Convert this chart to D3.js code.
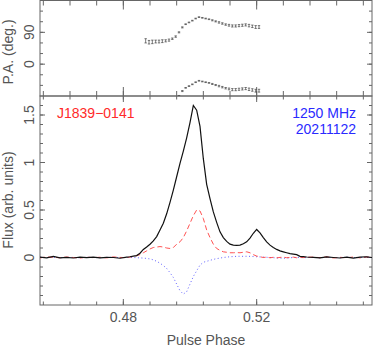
<!DOCTYPE html>
<html>
<head>
<meta charset="utf-8">
<title>J1839-0141 profile</title>
<script src="https://d3js.org/d3.v7.min.js"></script>
<style>
  body { margin: 0; background: #fff; }
  svg text { font-family: "Liberation Sans", Arial, sans-serif; }
</style>
</head>
<body>
<svg id="chart" width="374" height="349"></svg>
<script>
// pulse phase of each bin
var phase = [0.455,0.457,0.459,0.461,0.463,0.465,0.467,0.469,0.471,0.473,0.475,0.477,0.479,0.481,
  0.482,0.483,0.484,0.485,0.486,0.487,0.488,0.489,0.490,0.491,0.492,0.493,0.494,0.495,0.496,0.497,
  0.498,0.499,0.500,0.501,0.502,0.503,0.504,0.505,0.506,0.507,0.508,0.509,0.510,0.511,0.512,0.513,
  0.514,0.515,0.516,0.517,0.518,0.519,0.520,0.521,0.522,0.523,0.524,0.525,0.526,0.527,0.528,0.529,
  0.530,0.531,0.532,0.533,0.534,0.535,
  0.537,0.539,0.541,0.543,0.545,0.547,0.549,0.551,0.553,0.555];

// total intensity
var stokesI = [0.005,-0.003,0.012,-0.004,0.002,-0.005,0.004,-0.002,0.003,-0.004,0.002,0.000,-0.008,0.003,
  0.008,0.015,0.02,0.045,0.085,0.11,0.14,0.175,0.22,0.29,0.36,0.46,0.58,0.71,0.85,0.99,
  1.12,1.26,1.42,1.60,1.55,1.38,1.04,0.77,0.62,0.48,0.37,0.27,0.21,0.17,0.14,0.13,
  0.128,0.13,0.145,0.165,0.205,0.255,0.295,0.26,0.21,0.165,0.13,0.105,0.085,0.07,0.06,0.05,
  0.04,0.035,0.03,0.012,0.01,0.005,
  0.002,-0.004,0.006,0.000,-0.005,0.004,-0.006,0.003,0.008,-0.002];

// linear polarisation
var linearL = [-0.004,0.006,0.002,-0.003,0.005,0.000,-0.006,0.004,-0.002,0.003,-0.004,0.006,0.001,-0.002,
  0.005,0.01,0.02,0.03,0.05,0.07,0.09,0.105,0.11,0.115,0.11,0.10,0.095,0.105,0.14,0.165,
  0.21,0.28,0.36,0.44,0.50,0.49,0.41,0.29,0.21,0.14,0.095,0.075,0.06,0.055,0.05,0.05,
  0.052,0.05,0.055,0.06,0.05,0.03,0.015,0.008,0.0,0.004,-0.003,0.002,-0.004,0.001,0.003,-0.002,
  0.0,0.004,-0.003,0.002,-0.001,0.003,
  0.004,-0.002,0.007,-0.005,0.002,-0.003,0.005,-0.004,0.006,0.001];

// circular polarisation
var circularV = [0.002,-0.001,0.003,-0.002,0.001,0.0,-0.003,0.002,0.0,-0.002,0.001,0.002,-0.001,0.0,
  0.0,0.0,-0.002,-0.004,-0.006,-0.01,-0.015,-0.025,-0.04,-0.06,-0.085,-0.115,-0.16,-0.21,-0.28,-0.35,
  -0.385,-0.36,-0.28,-0.2,-0.14,-0.08,-0.05,-0.04,-0.03,-0.02,-0.012,-0.006,0.0,0.004,0.008,0.01,
  0.012,0.013,0.012,0.013,0.012,0.01,0.008,0.006,0.004,0.002,0.0,-0.002,-0.004,-0.006,-0.008,-0.006,
  -0.003,0.0,0.002,0.0,-0.002,0.0,
  0.001,-0.003,0.002,0.0,-0.002,0.003,-0.001,0.0,0.002,-0.002];

// position angle points
var paPhase = [0.4867,0.4877,0.4887,0.4897,0.4907,0.4917,0.4927,0.4937,0.4947,0.4957,0.4967,0.4977,
  0.4987,0.4997,0.5007,0.5017,0.5027,0.5037,0.5047,0.5057,0.5067,0.5077,0.5087,0.5097,0.5107,0.5117,
  0.5127,0.5137,0.5147,0.5157,0.5167,0.5177,0.5187,0.5197,0.5207];
var paDeg = [66,62,63,64,64,65,66,68,72,78,90,104,113,118,123,129,133,131,129,127,124,121,118,115,
  112,110,108,108,109,110,111,109,107,105,105];
var paErr = [6,5,5,4,4,4,3,3,2,2,1.5,1.5,1,1,1,1,1,1,1,1,1.5,1.5,2,2,2,2.5,3,3,3,3,3,3.5,3.5,4,4];

var xMajor = [0.48, 0.52];
var xMajorLabels = ["0.48", "0.52"];
var paMajor = [0, 90];
var paMajorLabels = ["0", "90"];
var fluxMajor = [0, 0.5, 1, 1.5];
var fluxMajorLabels = ["0", "0.5", "1", "1.5"];

var svg = d3.select("#chart");
var frameColor = "#666";
var textColor = "#555";

var x = d3.scaleLinear().domain([0.455, 0.5546]).range([40, 372]);
var yPA = d3.scaleLinear().domain([-90, 180]).range([96, 0.5]);
var yF = d3.scaleLinear().domain([-0.5, 1.7]).range([305, 96]);

var xMinor = d3.range(0.456, 0.555, 0.008);

function drawTicks(g, scale, vals, len, orient, y0, y1) {
  // orient: "x" ticks along horizontal edges, "y" along vertical edges
  vals.forEach(function(v) {
    var p = scale(v);
    if (orient === "x") {
      g.append("line").attr("x1", p).attr("x2", p).attr("y1", y1).attr("y2", y1 - len);
      g.append("line").attr("x1", p).attr("x2", p).attr("y1", y0).attr("y2", y0 + len);
    } else {
      g.append("line").attr("y1", p).attr("y2", p).attr("x1", 40).attr("x2", 40 + len);
      g.append("line").attr("y1", p).attr("y2", p).attr("x1", 372).attr("x2", 372 - len);
    }
  });
}

function panel(yScale, yMajor, yMinor, xMaj, xMin, yMajLen, yMinLen) {
  var top = yScale.range()[1], bottom = yScale.range()[0];
  var g = svg.append("g").attr("stroke", frameColor).attr("stroke-width", 1).attr("fill", "none");
  g.append("rect").attr("x", 40).attr("y", top).attr("width", 332).attr("height", bottom - top);
  drawTicks(g, x, xMinor, xMin, "x", top, bottom);
  drawTicks(g, x, xMajor, xMaj, "x", top, bottom);
  drawTicks(g, yScale, yMinor, yMinLen, "y");
  drawTicks(g, yScale, yMajor, yMajLen, "y");
}

panel(yPA, paMajor, d3.range(-60, 180, 30), 9, 5, 5, 3);
panel(yF, fluxMajor, d3.range(-0.4, 1.7, 0.1), 6, 3.5, 5, 3);

// clip for curves
svg.append("clipPath").attr("id", "clipF")
  .append("rect").attr("x", 40).attr("y", 96).attr("width", 332).attr("height", 209);
svg.append("clipPath").attr("id", "clipPA")
  .append("rect").attr("x", 40).attr("y", 0.5).attr("width", 332).attr("height", 95.5);

function lineFor(values) {
  return d3.line()
    .x(function(d, i) { return x(phase[i]); })
    .y(function(d) { return yF(d); })(values);
}

var curves = svg.append("g").attr("clip-path", "url(#clipF)").attr("fill", "none");
curves.append("path").attr("d", lineFor(circularV))
  .attr("stroke", "#5050ff").attr("stroke-width", 0.9).attr("stroke-dasharray", "1,2.5");
curves.append("path").attr("d", lineFor(linearL))
  .attr("stroke", "#ff4040").attr("stroke-width", 0.9).attr("stroke-dasharray", "5,3");
curves.append("path").attr("d", lineFor(stokesI))
  .attr("stroke", "#111").attr("stroke-width", 1.2);

// position angle, plotted at PA and PA-180
var paG = svg.append("g").attr("clip-path", "url(#clipPA)")
  .attr("stroke", "#444").attr("stroke-width", 0.7);
[0, -180].forEach(function(off) {
  paPhase.forEach(function(p, i) {
    var cx = x(p);
    var lo = yPA(paDeg[i] + off - paErr[i]), hi = yPA(paDeg[i] + off + paErr[i]);
    paG.append("line").attr("x1", cx).attr("x2", cx).attr("y1", lo).attr("y2", hi);
    paG.append("line").attr("x1", cx - 1.2).attr("x2", cx + 1.2).attr("y1", lo).attr("y2", lo);
    paG.append("line").attr("x1", cx - 1.2).attr("x2", cx + 1.2).attr("y1", hi).attr("y2", hi);
  });
});

// tick labels
var labels = svg.append("g").attr("fill", textColor).attr("font-size", 14);
xMajor.forEach(function(v, i) {
  labels.append("text").attr("x", x(v)).attr("y", 322).attr("text-anchor", "middle").text(xMajorLabels[i]);
});
paMajor.forEach(function(v, i) {
  labels.append("text").attr("transform", "translate(33.5," + yPA(v) + ") rotate(-90)")
    .attr("text-anchor", "middle").text(paMajorLabels[i]);
});
fluxMajor.forEach(function(v, i) {
  labels.append("text").attr("transform", "translate(33.5," + yF(v) + ") rotate(-90)")
    .attr("text-anchor", "middle").text(fluxMajorLabels[i]);
});

labels.append("text").attr("x", 206).attr("y", 345).attr("text-anchor", "middle").text("Pulse Phase");
labels.append("text").attr("transform", "translate(13,52) rotate(-90)")
  .attr("text-anchor", "middle").text("P.A. (deg.)");
labels.append("text").attr("transform", "translate(13,200) rotate(-90)")
  .attr("text-anchor", "middle").text("Flux (arb. units)");

svg.append("text").attr("x", 57).attr("y", 118).attr("font-size", 14).attr("fill", "#ff2a2a")
  .text("J1839\u22120141");
svg.append("text").attr("x", 356).attr("y", 118).attr("font-size", 14).attr("fill", "#2a2aff")
  .attr("text-anchor", "end").text("1250 MHz");
svg.append("text").attr("x", 356).attr("y", 134).attr("font-size", 14).attr("fill", "#2a2aff")
  .attr("text-anchor", "end").text("20211122");
</script>
</body>
</html>
